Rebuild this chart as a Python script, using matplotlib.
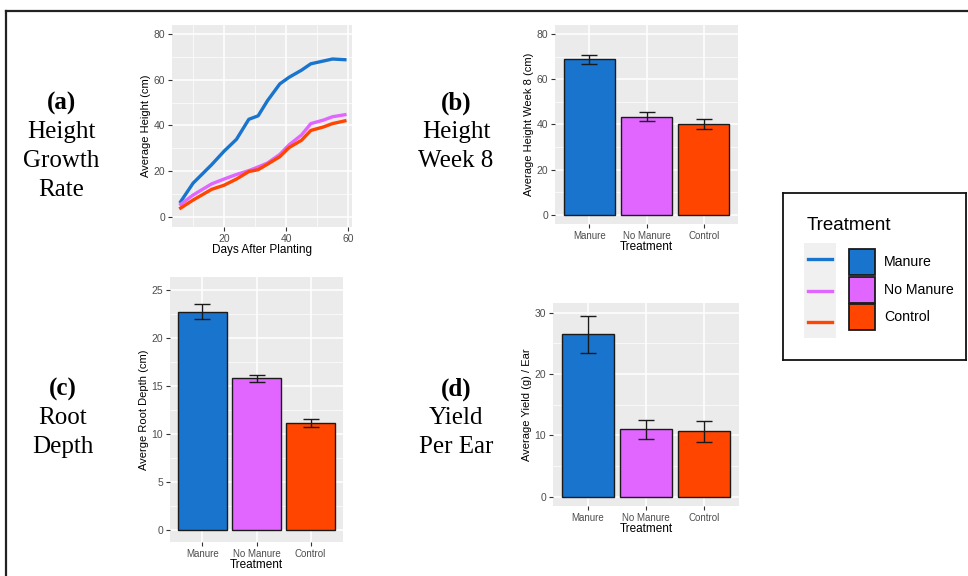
import matplotlib
matplotlib.use('Agg')
import matplotlib.pyplot as plt
from matplotlib.lines import Line2D
from matplotlib.patches import Rectangle

# data
treatments = ['Manure', 'No Manure', 'Control']
colors = ['#1874CD', '#E066FF', '#FF4500']

days = [6, 10, 16, 20, 24, 28, 31, 34, 38, 41, 45, 48, 52, 55, 59]
height_manure = [6.6, 14.7, 22.8, 28.7, 33.9, 42.7, 44.2, 50.8, 58.2, 61.1, 64.2, 67.0, 68.2, 69.1, 68.8]
height_nomanure = [5.4, 9.5, 14.4, 16.5, 18.5, 20.2, 21.8, 23.5, 27.3, 31.5, 35.8, 40.8, 42.3, 43.8, 44.7]
height_control = [3.8, 7.3, 12.0, 13.8, 16.5, 19.8, 20.6, 23.0, 26.3, 30.3, 33.5, 37.8, 39.3, 40.8, 42.0]

week8_mean = [68.8, 43.4, 40.3]
week8_err = [2.1, 2.0, 2.2]
root_mean = [22.7, 15.8, 11.15]
root_err = [0.8, 0.35, 0.45]
yield_mean = [26.5, 11.0, 10.7]
yield_err = [3.0, 1.6, 1.7]

SANS = 'Liberation Sans'
SERIF = 'Liberation Serif'
W, H = 968, 576

fig = plt.figure(figsize=(9.68, 5.76), dpi=100)


def box(x0, y0, x1, y1):
    # pixel box (top-left origin) -> figure fraction rect
    return [x0 / W, 1 - y1 / H, (x1 - x0) / W, (y1 - y0) / H]


def gg(ax, ylim, yticks, yminor):
    ax.set_facecolor('#EBEBEB')
    for s in ax.spines.values():
        s.set_visible(False)
    ax.set_ylim(*ylim)
    ax.set_yticks(yticks)
    ax.set_yticks(yminor, minor=True)
    ax.grid(which='major', color='white', lw=1.1)
    ax.grid(which='minor', axis='y', color='white', lw=0.5)
    ax.set_axisbelow(True)
    ax.tick_params(which='major', length=3, width=0.8, color='#333333',
                   labelsize=7.5, labelcolor='#4D4D4D', pad=2)
    ax.tick_params(which='minor', length=0)
    for t in ax.get_xticklabels() + ax.get_yticklabels():
        t.set_fontfamily(SANS)


def bars(ax, means, errs, ylabel, ylim, yticks, yminor):
    x = range(len(treatments))
    ax.bar(x, means, width=0.9, color=colors, edgecolor='#1a1a1a', lw=1.0, zorder=2)
    ax.errorbar(x, means, yerr=errs, fmt='none', ecolor='#1a1a1a',
                elinewidth=1.0, capsize=6, capthick=1.0, zorder=3)
    ax.set_xticks(list(x))
    ax.set_xticklabels(treatments)
    ax.set_xlim(-0.6, 2.6)
    gg(ax, ylim, yticks, yminor)
    ax.tick_params(axis='x', labelsize=7)
    ax.set_xlabel('Treatment', fontsize=8.5, fontfamily=SANS, labelpad=0)
    ax.set_ylabel(ylabel, fontsize=8, fontfamily=SANS, labelpad=2)


# (a) height growth
ax_a = fig.add_axes(box(172, 25, 352, 227))
for ys, c in zip([height_manure, height_nomanure, height_control], colors):
    ax_a.plot(days, ys, color=c, lw=2.4, zorder=2)
ax_a.set_xlim(3.2, 61.3)
ax_a.set_xticks([20, 40, 60])
ax_a.set_xticks([10, 30, 50], minor=True)
gg(ax_a, (-4.5, 84), [0, 20, 40, 60, 80], [10, 30, 50, 70])
ax_a.grid(which='minor', axis='x', color='white', lw=0.5)
ax_a.set_xlabel('Days After Planting', fontsize=8.5, fontfamily=SANS, labelpad=0)
ax_a.set_ylabel('Average Height (cm)', fontsize=8, fontfamily=SANS, labelpad=2)

# (b) height week 8
ax_b = fig.add_axes(box(555, 25, 738, 224))
bars(ax_b, week8_mean, week8_err, 'Average Height Week 8 (cm)',
     (-4, 84), [0, 20, 40, 60, 80], [10, 30, 50, 70])

# (c) root depth
ax_c = fig.add_axes(box(170, 277, 343, 542))
bars(ax_c, root_mean, root_err, 'Averge Root Depth (cm)',
     (-1.2, 26.3), [0, 5, 10, 15, 20, 25], [2.5, 7.5, 12.5, 17.5, 22.5])

# (d) yield per ear
ax_d = fig.add_axes(box(553, 303, 739, 506))
bars(ax_d, yield_mean, yield_err, 'Average Yield (g) / Ear',
     (-1.5, 31.6), [0, 10, 20, 30], [5, 15, 25])

# panel captions
captions = [
    (61, 103, ['(a)', 'Height', 'Growth', 'Rate']),
    (456, 103, ['(b)', 'Height', 'Week 8']),
    (63, 389, ['(c)', 'Root', 'Depth']),
    (456, 389, ['(d)', 'Yield', 'Per Ear']),
]
for cx, cy, lines in captions:
    for i, s in enumerate(lines):
        fig.text(cx / W, 1 - (cy + i * 29) / H, s, ha='center', va='center',
                 fontsize=18, fontfamily=SERIF,
                 fontweight='bold' if i == 0 else 'normal')

# legend box
lg = fig.add_axes(box(783, 193, 966, 360))
lg.set_xlim(783, 966)
lg.set_ylim(360, 193)
lg.set_xticks([])
lg.set_yticks([])
for s in lg.spines.values():
    s.set_linewidth(1.3)
    s.set_color('#111111')
lg.text(807, 225, 'Treatment', fontsize=13.5, fontfamily=SANS, va='center', ha='left')
lg.add_patch(Rectangle((804, 243), 32, 95, color='#F0F0F0', lw=0))
line_y = [259, 291, 322]
sq_y = [249, 277, 304]
for name, c, ly, sy in zip(treatments, colors, line_y, sq_y):
    lg.plot([808, 832], [ly, ly], color=c, lw=2.4)
    lg.add_patch(Rectangle((849, sy), 26, 26, facecolor=c, edgecolor='#1a1a1a', lw=1.3))
    lg.text(884, sy + 13, name, fontsize=10.2, fontfamily=SANS, va='center', ha='left')

# outer frame (top and left edges)
fig.add_artist(Line2D([6 / W, 6 / W], [0, 1 - 11 / H], color='#222222', lw=1.6))
fig.add_artist(Line2D([6 / W, 1], [1 - 11 / H, 1 - 11 / H], color='#222222', lw=1.6))

fig.savefig('out.png', dpi=100)
